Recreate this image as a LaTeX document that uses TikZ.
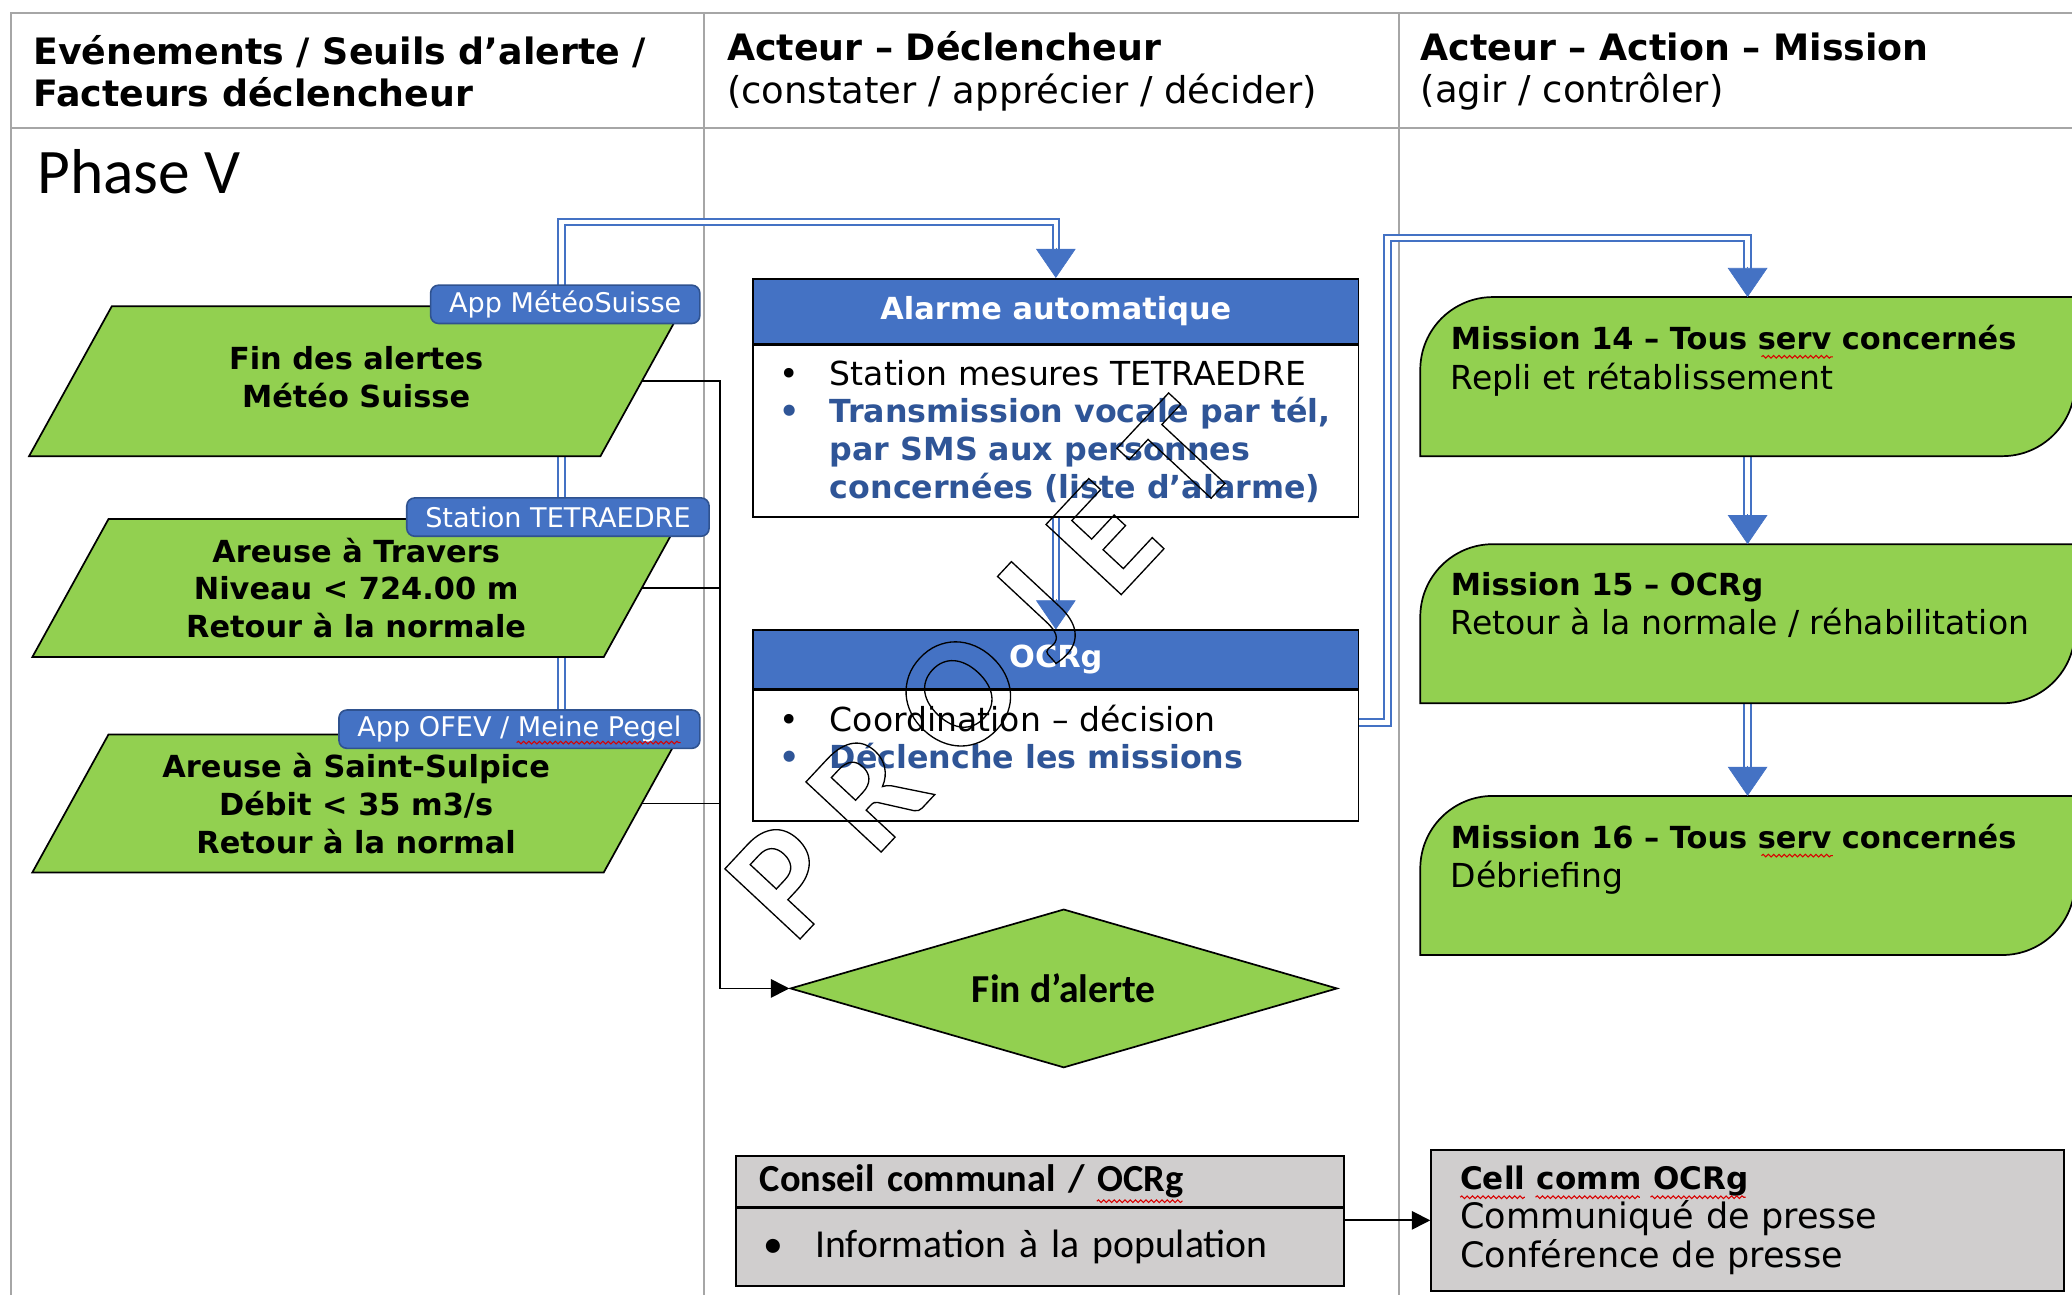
\documentclass[tikz,border=0pt]{standalone}
\usepackage{fontspec}
\setmainfont{DejaVu Sans}
\newfontfamily\calib{Carlito}
\usepackage{tikz}
\usetikzlibrary{positioning,shapes.geometric,arrows.meta,backgrounds,decorations.pathmorphing}

\definecolor{vert}{HTML}{92D050}
\definecolor{bleu}{HTML}{4472C4}
\definecolor{bleufonce}{HTML}{2F528F}
\definecolor{bleutxt}{HTML}{2F5597}
\definecolor{grisbox}{HTML}{D0CECE}
\definecolor{grille}{HTML}{A6A6A6}

\newcommand{\fs}[2]{\fontsize{#1}{#2}\selectfont}
\newcommand{\puce}{\makebox[38pt][l]{\textbullet}}
\newcommand{\contourtxt}[1]{\special{pdf:literal direct 1 Tr 1 w}#1\special{pdf:literal direct 0 Tr}}

\tikzset{
  trait/.style={line width=1.3pt},
  parabox/.style={minimum width=432pt, inner sep=0pt, align=center, font=\fs{23}{28.5}\bfseries},
  bord/.style={draw, trait, fill=vert},
  etiq/.style={draw=bleufonce, line width=1.2pt, fill=bleu, rounded corners=6pt,
    text=white, minimum height=29pt, inner xsep=14pt, inner ysep=0pt, font=\fs{20.5}{24}},
  titre/.style={draw, trait, fill=bleu, text=white, minimum width=458pt,
    inner sep=0pt, font=\fs{23}{28}\bfseries},
  corps/.style={draw, trait, fill=white, text width=418pt, inner xsep=20pt,
    inner ysep=0pt, align=left, font=\fs{25}{28.5}},
  losange/.style={diamond, aspect=3.45, draw, trait, fill=vert, minimum width=414pt,
    minimum height=120pt, inner sep=0pt, font=\calib\fs{30}{36}\bfseries},
  mission/.style={minimum width=495pt, minimum height=120pt, inner sep=0pt},
  mistxt/.style={anchor=north west, inner sep=0pt, align=left, font=\fs{25}{30}},
  gris/.style={draw, trait, fill=grisbox, align=left, inner ysep=0pt},
  double bleu/.style={draw=bleu, line width=1.5pt, double=white, double distance=3.5pt},
  pointe/.style={draw=bleu, line width=.5pt, -{Triangle[width=30pt,length=22pt]}},
  fil/.style={trait, -{Triangle[width=14pt,length=14pt]}},
  entete/.style={anchor=west, inner sep=0pt, align=left, font=\fs{28}{32}},
  ondule/.style={draw=red!85!black, line width=.8pt, decorate,
    decoration={snake, segment length=4pt, amplitude=1pt}},
}

\begin{document}
\begin{tikzpicture}[x=1pt,y=-1pt]
\useasboundingbox (0,0) rectangle (1568,980);

% grille du tableau
\begin{scope}[on background layer]
  \draw[grille, line width=1.5pt] (8,980) -- (8,10) -- (1568,10);
  \draw[grille, line width=1.5pt] (8,97) -- (1568,97);
  \foreach \x in {533,1059} \draw[grille, line width=1.5pt] (\x,10) -- (\x,980);
\end{scope}

% en-tetes
\node[entete, font=\fs{27.5}{32}\bfseries] (col1) at (25,54) {Evénements / Seuils d’alerte /\\Facteurs déclencheur};
\node[entete] (col2) at (550,54) {{\bfseries\fs{27.5}{32}Acteur – Déclencheur}\\(constater / apprécier / décider)};
\node[entete] (col3) at (1075,54) {{\bfseries\fs{27.5}{32}Acteur – Action – Mission}\\(agir / contrôler)};
\node[anchor=west, inner sep=0pt, font=\calib\fs{48}{52}] (phase) at (28,130) {Phase V};

% evenements (parallelogrammes)
\foreach \p/\y/\h/\dy/\txt in {p1/288.5/113/3/{Fin des alertes\\Météo Suisse},
    p2/445/104/0/{Areuse à Travers\\Niveau < 724.00 m\\Retour à la normale},
    p3/608/104/0/{Areuse à Saint-Sulpice\\Débit < 35 m3/s\\Retour à la normal}}
{
  \pgfmathsetmacro\s{0.277*\h}
  \node[parabox, minimum height=\h pt] (\p) at (269.5,\y) {};
  \draw[bord] ([xshift=-\s pt]\p.south west) -- ([xshift=\s pt]\p.north west)
    -- ([xshift=\s pt]\p.north east) -- ([xshift=-\s pt]\p.south east) -- cycle;
  \node[parabox] (\p txt) at ([yshift=\dy pt]\p) {\txt};
}

\node[etiq, anchor=east] (t1) at ([xshift=44.5pt,yshift=1.5pt]p1.north east) {App MétéoSuisse};
\node[etiq, anchor=east] (t2) at ([xshift=51.5pt,yshift=1.5pt]p2.north east) {Station TETRAEDRE};
\node[etiq, anchor=east] (t3) at ([xshift=44.5pt,yshift=4pt]p3.north east) {App OFEV / Meine Pegel};

% declencheur
\node[titre, minimum height=49pt] (alarme) at (799,235.5) {Alarme automatique};
\node[corps, below=0pt of alarme, minimum height=130pt] (alarmeb) {\puce Station mesures TETRAEDRE\\
  {\color{bleutxt}\bfseries\fs{24}{28.5}\puce Transmission vocale par tél,\\\hspace*{38pt}par SMS aux personnes\\\hspace*{38pt}concernées (liste d’alarme)}\\[-4pt]};

\node[titre, minimum height=44pt] (ocrg) at (799,499) {OCRg};
\node[corps, below=0pt of ocrg, minimum height=99pt] (ocrgb) {\puce Coordination – décision\\
  {\color{bleutxt}\bfseries\fs{24}{28.5}\puce Déclenche les missions}\\\mbox{}};

\node[losange] (fin) at (805,748) {Fin d’alerte};

\node[gris, text width=424pt, inner xsep=18pt, minimum height=38pt, font=\calib\fs{29}{36}\bfseries] (conseil) at (787,894) {Conseil communal / OCRg};
\node[gris, below=0pt of conseil, text width=424pt, inner xsep=18pt, minimum height=59pt, font=\calib\fs{30}{36}] (conseilb) {\makebox[42pt][l]{\hspace*{3pt}\textbullet}Information à la population};

% missions
\foreach \n/\y/\qui/\quoi in {14/285/Tous serv concernés/Repli et rétablissement,
    15/472/OCRg/{Retour à la normale / réhabilitation},
    16/662.5/Tous serv concernés/Débriefing}
{
  \node[mission] (m\n) at (1322.5,\y) {};
  \draw[bord] (m\n.south west) [rounded corners=55pt] -- (m\n.north west) [sharp corners] -- (m\n.north east)
    [rounded corners=55pt] -- (m\n.south east) [sharp corners] -- cycle;
  \node[mistxt] (mt\n) at ([xshift=23pt,yshift=-21pt]m\n.north west) {{\bfseries\fs{23}{30}Mission \n\ – \qui}\\\quoi};
}

\node[gris, text width=435pt, inner xsep=22pt, minimum height=107pt, font=\fs{26.5}{29.5}] (cell) at (1322.5,923.5)
  {{\bfseries\fs{23.5}{29.5}Cell comm OCRg}\\Communiqué de presse\\Conférence de presse};

% liaisons doubles
\begin{scope}[on background layer]
  \coordinate (bus) at (425,168);
  \coordinate (coude) at (1050,180);
  \draw[double bleu, shorten >=21pt] (t3.north -| bus) -- (bus) -| (alarme.north);
  \draw[double bleu, shorten >=21pt] (alarmeb.south) -- (ocrg.north);
  \draw[double bleu, shorten >=21pt] ([yshift=25pt]ocrgb.east) -| (coude) -| (m14.north);
  \draw[double bleu, shorten >=21pt] (m14.south) -- (m15.north);
  \draw[double bleu, shorten >=21pt] (m15.south) -- (m16.north);
\end{scope}
\foreach \b in {alarme,ocrg,m14,m15,m16} \draw[pointe] ([yshift=23pt]\b.north) -- (\b.north);

% liaisons simples
\coordinate (bus2) at (545,748);
\draw[fil] (p1.east) -| (bus2) -- (fin.west);
\draw[trait] (p2.east) -- (p2.east -| bus2);
\draw[trait] (p3.east) -- (p3.east -| bus2);
\draw[fil] (conseil.east |- cell.west) -- (cell.west);

% soulignements du correcteur
\draw[ondule] (391,562) -- (515,562);
\foreach \y in {270,647.5} \draw[ondule] (1333,\y) -- (1387,\y);
\draw[ondule] (830,909) -- (895,909);
\foreach \a/\b in {1105/1154,1162/1241,1249/1321} \draw[ondule] (\a,906) -- (\b,906);

% filigrane
\node[rotate=47, inner sep=0pt, font=\calib\bfseries\fs{120}{120}] (filigrane) at (743,506)
  {\contourtxt{P\hspace{26pt}R\hspace{26pt}O\hspace{26pt}J\hspace{26pt}E\hspace{26pt}T}};
\end{tikzpicture}
\end{document}
